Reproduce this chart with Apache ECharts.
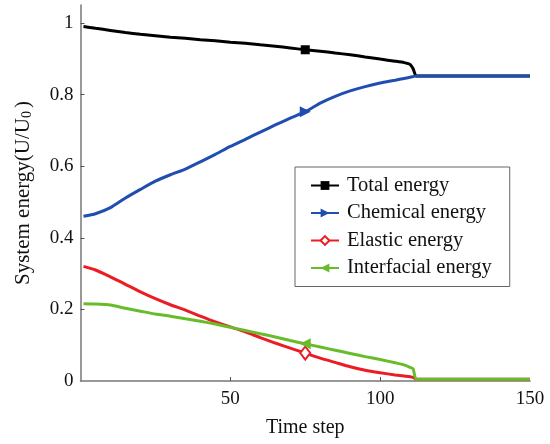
<!DOCTYPE html>
<html>
<head>
<meta charset="utf-8">
<script src="https://cdn.jsdelivr.net/npm/echarts@6/dist/echarts.min.js"></script>
<style>html,body{margin:0;padding:0;background:#fff}#c{width:550px;height:444px}</style>
</head>
<body>
<div id="c"></div>
<script>
// Data
const timeSteps = [1,5,10,15,20,25,30,35,40,45,50,55,60,65,70,75,80,85,90,95,100,105,108,110,111,112,115,120,130,140,150];
const totalEnergy = [0.990,0.985,0.979,0.973,0.968,0.964,0.960,0.957,0.953,0.950,0.946,0.943,0.939,0.935,0.930,0.925,0.921,0.916,0.911,0.905,0.899,0.893,0.889,0.884,0.872,0.852,0.852,0.852,0.852,0.852,0.852];
const chemicalEnergy = [0.460,0.467,0.484,0.511,0.535,0.558,0.576,0.592,0.612,0.633,0.655,0.675,0.695,0.715,0.734,0.752,0.776,0.795,0.810,0.822,0.832,0.840,0.845,0.848,0.850,0.852,0.852,0.852,0.852,0.852,0.852];
const elasticEnergy = [0.320,0.310,0.291,0.270,0.249,0.230,0.213,0.198,0.181,0.165,0.151,0.137,0.121,0.106,0.092,0.078,0.064,0.052,0.040,0.030,0.023,0.017,0.014,0.012,0.010,0.005,0.005,0.005,0.005,0.005,0.005];
const interfacialEnergy = [0.216,0.215,0.212,0.203,0.195,0.187,0.181,0.174,0.167,0.159,0.150,0.141,0.132,0.123,0.113,0.104,0.095,0.086,0.077,0.068,0.060,0.051,0.045,0.038,0.034,0.005,0.005,0.005,0.005,0.005,0.005];
const markerStep = 75;
const seriesNames = ['Total energy','Chemical energy','Elastic energy','Interfacial energy'];
const yTicks = [0,0.2,0.4,0.6,0.8,1];
const xTicks = [50,100,150];

function build(ys){
  return timeSteps.map((x,i)=> x===markerStep ? {value:[x,ys[i]]} : {value:[x,ys[i]], symbol:'none'});
}
const font = '"Liberation Serif","Times New Roman",serif';
const chart = echarts.init(document.getElementById('c'));
const common = {type:'line', smooth:0.2, showSymbol:true, showAllSymbol:true, z:2, animation:false};
chart.setOption({
  animation:false,
  backgroundColor:'#fff',
  textStyle:{fontFamily:font},
  grid:{left:80.5, right:20, top:5, bottom:63},
  xAxis:{
    type:'value', min:0, max:150, interval:50,
    name:'Time step', nameLocation:'middle', nameGap:37,
    nameTextStyle:{fontFamily:font, fontSize:20, color:'#111'},
    axisLine:{lineStyle:{color:'#777', width:1.5}},
    axisTick:{inside:true, length:4, lineStyle:{color:'#555'}, customValues:[50,100]},
    axisLabel:{fontFamily:font, fontSize:19, color:'#111', margin:9, customValues:xTicks},
    splitLine:{show:false}
  },
  yAxis:{
    type:'value', min:0, max:1.05, interval:0.2,
    name:'System energy(U/U{sub|0})', nameLocation:'middle', nameGap:46,
    nameTextStyle:{fontFamily:font, fontSize:21, color:'#111', rich:{sub:{fontFamily:font, fontSize:14, color:'#111', verticalAlign:'bottom', padding:[9,3,0,0]}}},
    axisLine:{show:true, lineStyle:{color:'#777', width:1.5}},
    axisTick:{show:true, inside:true, length:4, lineStyle:{color:'#555'}, customValues:[0.2,0.4,0.6,0.8,1]},
    axisLabel:{fontFamily:font, fontSize:19, color:'#111', margin:7, customValues:yTicks},
    splitLine:{show:false}
  },
  legend:{
    orient:'vertical', left:295, top:167,
    backgroundColor:'#fff', borderColor:'#666', borderWidth:1,
    padding:[8,18,8,15], itemGap:6.5, itemWidth:28, itemHeight:11,
    textStyle:{fontFamily:font, fontSize:20.5, color:'#111', padding:[0,0,0,3]},
    data:seriesNames
  },
  series:[
    Object.assign({}, common, {name:seriesNames[0], data:build(totalEnergy), symbol:'rect', symbolSize:9,
      lineStyle:{color:'#000', width:3}, itemStyle:{color:'#000'}}),
    Object.assign({}, common, {name:seriesNames[1], data:build(chemicalEnergy), symbol:'triangle', symbolRotate:-90, symbolSize:11,
      lineStyle:{color:'#1f4eb0', width:3}, itemStyle:{color:'#1f4eb0'}}),
    Object.assign({}, common, {name:seriesNames[2], data:build(elasticEnergy), symbol:'emptyDiamond', symbolSize:[10,13],
      lineStyle:{color:'#ec1c24', width:3}, itemStyle:{color:'#ec1c24', borderWidth:2}}),
    Object.assign({}, common, {name:seriesNames[3], data:build(interfacialEnergy), symbol:'triangle', symbolRotate:90, symbolSize:11,
      lineStyle:{color:'#68bc2a', width:3}, itemStyle:{color:'#68bc2a'}})
  ]
});
</script>
</body>
</html>
